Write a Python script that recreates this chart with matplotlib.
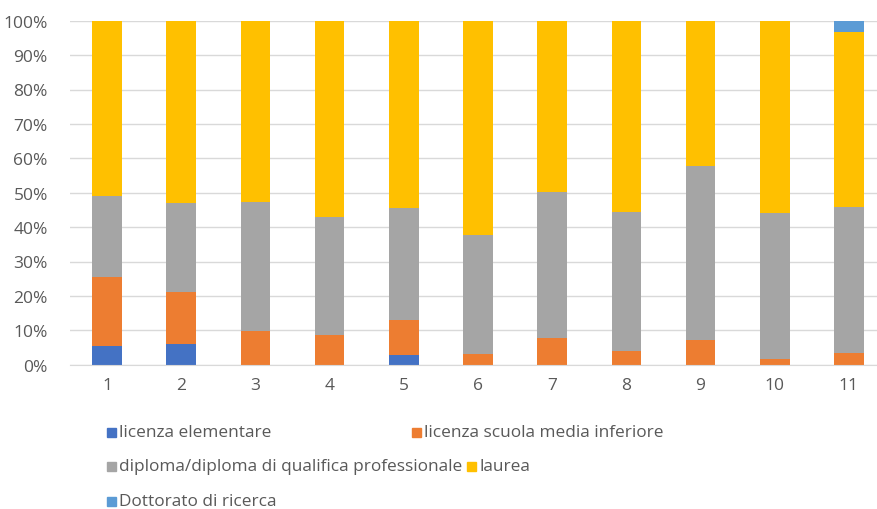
import numpy as np
import matplotlib
matplotlib.use('Agg')
import matplotlib.pyplot as plt
from matplotlib.patches import Rectangle

# data (percent of each group)
groups = ['1', '2', '3', '4', '5', '6', '7', '8', '9', '10', '11']
elementare = [5.5, 6.0, 0, 0, 2.8, 0, 0, 0, 0, 0, 0]
media_inf = [20.1, 15.2, 9.7, 8.7, 10.1, 3.0, 7.8, 4.1, 7.2, 1.8, 3.5]
diploma = [23.5, 25.8, 37.5, 34.1, 32.6, 34.7, 42.3, 40.2, 50.6, 42.2, 42.2]
laurea = [50.9, 53.0, 52.8, 57.2, 54.5, 62.3, 49.9, 55.7, 42.2, 56.0, 51.1]
dottorato = [0, 0, 0, 0, 0, 0, 0, 0, 0, 0, 3.2]

series = [
    ('licenza elementare', elementare, '#4472C4'),
    ('licenza scuola media inferiore', media_inf, '#ED7D31'),
    ('diploma/diploma di qualifica professionale', diploma, '#A5A5A5'),
    ('laurea', laurea, '#FFC000'),
    ('Dottorato di ricerca', dottorato, '#5B9BD5'),
]

plt.rcParams['font.family'] = ['Open Sans', 'DejaVu Sans']
txt = '#595959'

fig = plt.figure(figsize=(8.78, 5.10), dpi=100)
W, H = 878, 510
ax = fig.add_axes([70 / W, 1 - 365.7 / H, (886 - 70) / W, (365.7 - 21.7) / H])

x = np.arange(1, len(groups) + 1)
bottom = np.zeros(len(groups))
for name, vals, col in series:
    vals = np.array(vals, dtype=float)
    ax.bar(x, vals / 100, 0.4, bottom=bottom / 100, color=col, zorder=2)
    bottom += vals

ax.set_xlim(0.5, 11.5)
ax.set_ylim(0, 1)
ax.set_yticks(np.arange(0, 1.01, 0.1))
ax.set_yticklabels([f'{int(round(v * 100))}%' for v in np.arange(0, 1.01, 0.1)])
ax.set_xticks(x)
ax.set_xticklabels(groups)
ax.tick_params(length=0, labelsize=12.5, colors=txt, pad=9)
ax.tick_params(axis='y', pad=16)
ax.grid(axis='y', color='#D9D9D9', linewidth=1, zorder=0)
for s in ['top', 'right', 'left']:
    ax.spines[s].set_visible(False)
ax.spines['bottom'].set_color('#D9D9D9')

# legend laid out like the Excel one (flowing rows)
renderer = fig.canvas.get_renderer()
rows = [(433, [0, 1]), (467, [2, 3]), (502, [4])]
for py, idx in rows:
    px = 107
    for k, i in enumerate(idx):
        name, vals, col = series[i]
        if k == 1 and i == 1:
            px = 412
        fig.patches.append(Rectangle((px / W, 1 - (py + 4.5) / H), 9 / W, 9 / H,
                                     transform=fig.transFigure, color=col))
        t = fig.text((px + 12) / W, 1 - py / H, name, fontsize=12.4, color=txt, va='center')
        px = t.get_window_extent(renderer).x1 + 5

fig.savefig('out.png', dpi=100)
